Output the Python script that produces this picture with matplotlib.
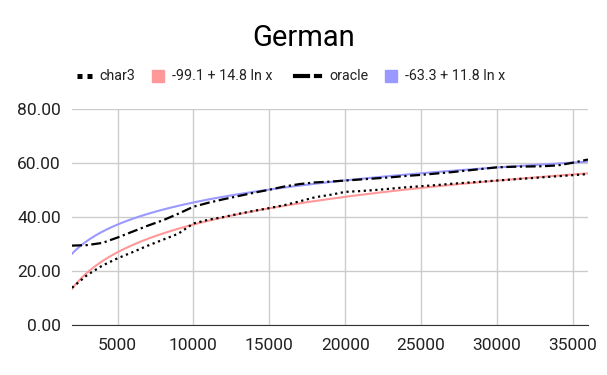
import numpy as np
import matplotlib
matplotlib.use('Agg')
import matplotlib.pyplot as plt
from matplotlib.lines import Line2D
from matplotlib.patches import Rectangle

plt.rcParams['font.family'] = ['Roboto', 'DejaVu Sans']

# Dati
x_values = np.arange(2000, 36001, 1000)
char3 = [13.8, 18.5, 22.0, 24.7, 27.0, 29.4, 31.6, 33.8, 37.6, 39.0,
         40.0, 41.2, 42.3, 43.3, 44.4, 45.8, 47.3, 48.2, 49.3, 49.6,
         50.0, 50.5, 51.0, 51.4, 51.8, 52.3, 52.7, 53.1, 53.5, 53.9,
         54.3, 54.7, 55.1, 55.5, 55.9]
oracle = [29.4, 29.6, 30.4, 32.4, 34.6, 36.8, 38.8, 41.2, 43.8, 45.3,
          46.6, 47.8, 49.0, 50.1, 51.3, 52.2, 52.8, 53.1, 53.5, 53.9,
          54.3, 54.7, 55.2, 55.6, 56.1, 56.6, 57.2, 57.8, 58.4, 58.6,
          58.7, 58.8, 59.1, 60.1, 61.3]
# coefficienti delle trendline (dalla legenda): a + b ln x
trend_a = [-99.1, -63.3]
trend_b = [14.8, 11.8]
trend_labels = [f'{a} + {b} ln x' for a, b in zip(trend_a, trend_b)]
x_ticks = [5000, 10000, 15000, 20000, 25000, 30000, 35000]
y_ticks = [0, 20, 40, 60, 80]

pink = '#ff9999'
blue = '#9999ff'
W, H = 607, 375

fig = plt.figure(figsize=(W / 100, H / 100), dpi=100)
ax = fig.add_axes([72 / W, 1 - 325 / H, 516 / W, 216 / H])

# Trendline logaritmiche
x_fine = np.linspace(2000, 36000, 300)
for a, b, col in zip(trend_a, trend_b, [pink, blue]):
    ax.plot(x_fine, a + b * np.log(x_fine), color=col, lw=1.5, zorder=2)

ax.plot(x_values, char3, color='black', lw=1.6, linestyle=(0, (1, 1.6)), zorder=3)
ax.plot(x_values, oracle, color='black', lw=1.6, linestyle=(0, (4.5, 1.6, 1, 1.6)), zorder=3)

ax.set_xlim(2000, 36000)
ax.set_ylim(0, 80)
ax.set_xticks(x_ticks)
ax.set_yticks(y_ticks)
ax.set_yticklabels([f'{v:.2f}' for v in y_ticks])
ax.grid(True, color='#cccccc', lw=1)
ax.set_axisbelow(True)
for s in ['top', 'right', 'left']:
    ax.spines[s].set_visible(False)
ax.spines['bottom'].set_color('#333333')
ax.tick_params(length=0, labelsize=12.5, colors='#222222')
ax.tick_params(axis='x', pad=9)
ax.tick_params(axis='y', pad=8)

fig.text(0.5, 1 - 38 / H, 'German', ha='center', va='center', fontsize=21, color='black')

# Legenda disegnata a mano (posizioni in pixel)
ly = 1 - 76 / H
def fx(px):
    return px / W

fig.add_artist(Line2D([fx(77), fx(92)], [ly, ly], color='black', lw=3.6,
                      linestyle=(0, (1, 1)), transform=fig.transFigure))
fig.add_artist(Line2D([fx(295), fx(308)], [ly, ly], color='black', lw=3,
                      transform=fig.transFigure))
fig.add_artist(Line2D([fx(316), fx(320)], [ly, ly], color='black', lw=3,
                      transform=fig.transFigure))
for x0, col in [(152, pink), (385, blue)]:
    fig.add_artist(Rectangle((fx(x0), 1 - 82 / H), 12 / W, 12 / H, color=col,
                             transform=fig.transFigure))
for x0, txt in [(99, 'char3'), (172, trend_labels[0]), (329, 'oracle'), (405, trend_labels[1])]:
    fig.text(fx(x0), ly, txt, ha='left', va='center', fontsize=10.3, color='#222222')

fig.savefig('out.png', dpi=100)
